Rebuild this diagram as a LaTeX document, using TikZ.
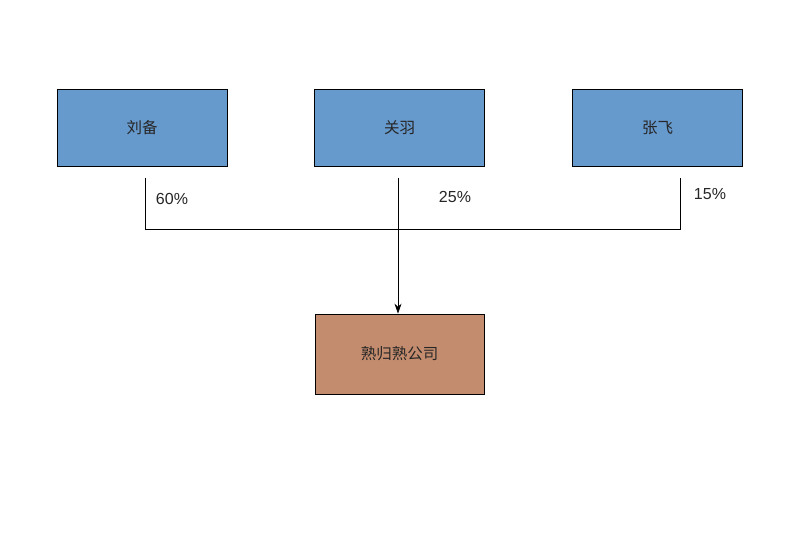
\documentclass[tikz,border=0pt]{standalone}
\usepackage{fontspec}
\setmainfont{Liberation Sans}
\newfontfamily\cjk{Noto Sans CJK SC}
\usetikzlibrary{arrows.meta}
\definecolor{boxblue}{HTML}{6699CC}
\definecolor{boxbrown}{HTML}{C48C6E}
\begin{document}
\begin{tikzpicture}[x=1pt,y=-1pt,
  person/.style={draw=black, fill=boxblue, line width=0.8pt, minimum width=170pt, minimum height=77pt, inner sep=0pt, font=\cjk\fontsize{15.5pt}{18pt}\selectfont, text=black!85},
  company/.style={draw=black, fill=boxbrown, line width=0.8pt, minimum width=169pt, minimum height=80pt, inner sep=0pt, font=\cjk\fontsize{15.5pt}{18pt}\selectfont, text=black!85},
  pct/.style={font=\fontsize{16pt}{19pt}\selectfont, text=black!85, inner sep=0pt},
  link/.style={draw=black, line width=0.7pt}
]
\useasboundingbox[fill=white] (0,0) rectangle (806,536);
\node[person] (liu) at (142,127.5) {刘备};
\node[person] (guan) at (399.5,127.5) {关羽};
\node[person] (zhang) at (657.5,127.5) {张飞};
\node[company] (co) at (399.5,354) {熟归熟公司};
\coordinate (l1) at (145,178);
\coordinate (l2) at (145,229);
\coordinate (m1) at (398,178);
\coordinate (m2) at (398,229);
\coordinate (r1) at (680,178);
\coordinate (r2) at (680,229);
\draw[link] (l1) -- (l2) -- (r2) -- (r1);
\draw[link] (m1) -- (m2);
\draw[link, -{Stealth[length=10pt,width=7pt]}] (m2) -- (co.north -| m2);
\node[pct] (p60) at (172,199) {60\%};
\node[pct] (p25) at (455,197) {25\%};
\node[pct] (p15) at (710,194) {15\%};
\end{tikzpicture}
\end{document}
